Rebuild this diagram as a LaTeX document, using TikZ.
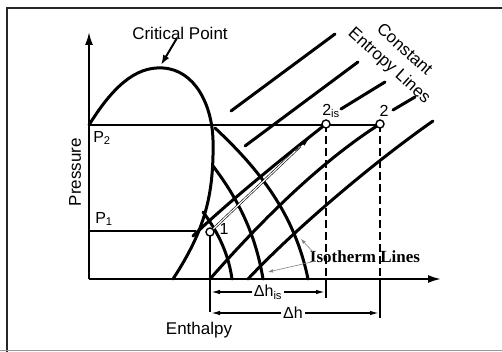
\documentclass[tikz,border=0pt]{standalone}
\usepackage{fontspec}
\setmainfont{Liberation Sans}
\newfontfamily\serifb{Liberation Serif}
\usetikzlibrary{arrows.meta,calc}
\begin{document}
\begin{tikzpicture}[x=1pt,y=-1pt,
  thickcurve/.style={line width=3pt, line cap=round},
  axisline/.style={line width=2pt},
  thinline/.style={line width=1.3pt},
  dashv/.style={line width=2pt, dash pattern=on 8pt off 4pt},
  dimline/.style={line width=1.4pt, {Latex[length=9pt,width=4.5pt]}-{Latex[length=9pt,width=4.5pt]}},
  ptcircle/.style={circle, draw, fill=white, inner sep=0pt, minimum size=8pt, line width=1.4pt},
  lbl/.style={font=\fontsize{17}{19}\selectfont, inner sep=0pt},
  smalllbl/.style={font=\fontsize{16}{18}\selectfont, inner sep=0pt},
  isolbl/.style={font=\serifb\bfseries\fontsize{17}{19}\selectfont, inner sep=0pt},
  grayarrow/.style={line width=0.6pt, gray, -{Latex[length=5pt,width=3.5pt]}}
]
\useasboundingbox (0,0) rectangle (502,352);
% frame
\draw[line width=1.8pt, black!85] (7,352) -- (7,8) -- (502,8);
\draw[line width=1.5pt, black!40] (0,350.5) -- (502,350.5);

% coordinates
\coordinate (O) at (89,279);
\coordinate (ytop) at (89,32);
\coordinate (xend) at (441,279);
\coordinate (P2s) at (89,125);
\coordinate (P1s) at (89,231);
\coordinate (P1e) at (196,231);
\coordinate (top) at (163,68);
\coordinate (domeend) at (173,279);

% P lines
\draw[thinline] (P2s) -- (380,125);
\draw[thinline] (P1s) -- (P1e);

% axes
\draw[axisline, -{Latex[length=13pt,width=8pt]}] (O) -- (ytop);
\draw[axisline, -{Latex[length=13pt,width=8pt]}] (O) -- (xend);

% dome
\draw[thickcurve] (P2s) .. controls (112,88) and (135,66) .. (top)
  .. controls (195,70) and (212,105) .. (213,140)
  .. controls (214,195) and (205,230) .. (domeend);

% isotherms
\draw[thickcurve] (215,128) .. controls (260,170) and (295,215) .. (308,279);
\draw[thickcurve] (213,166) .. controls (235,195) and (255,230) .. (263,279);
\draw[thickcurve] (203,212) .. controls (215,228) and (228,250) .. (232,279);

% points
\coordinate (c1) at (210,232);
\coordinate (c2is) at (326,124);
\coordinate (c2) at (380,124);

% constant entropy lines
\draw[thickcurve] (231,111) -- (335,34);
\draw[thickcurve] (245,146) -- (358,62);
\draw[thickcurve] (193,236) .. controls (225,205) and (280,160) .. (c2is);
\draw[thickcurve] (341,109) -- (385,82);
\draw[thickcurve] (210,279) .. controls (260,222) and (320,162) .. (c2);
\draw[thickcurve] (393,110) -- (415,97);
\draw[thickcurve] (248,279) .. controls (292,232) and (370,165) .. (433,121);

% compression path 1 -> 2is
\coordinate (arrtip) at (310,137);
\coordinate (arrmid) at ($(c1)!0.85!(arrtip)$);
\coordinate (arrdbl) at ($(c1)!0.9!(arrtip)$);
\draw[line width=0.6pt, double, double distance=1.2pt] (c1) -- (arrdbl);
\draw[line width=0.6pt, -{Latex[length=10pt,width=5pt]}] (arrmid) -- (arrtip);

% verticals
\draw[axisline] (c1) -- (210,312);
\draw[dashv] (c2is) -- (326,279);
\draw[axisline] (326,279) -- (326,298);
\draw[dashv] (c2) -- (380,279);
\draw[axisline] (380,279) -- (380,318);

% circles
\node[ptcircle] (n1) at (c1) {};
\node[ptcircle] (n2is) at (c2is) {};
\node[ptcircle] (n2) at (c2) {};

% dimension lines
\coordinate (dA) at (211,292);
\coordinate (dB) at (325,292);
\coordinate (eA) at (211,313);
\coordinate (eB) at (379,313);
\draw[dimline] (dA) -- node[smalllbl, fill=white, inner sep=2pt] (dhis) {Δh\textsubscript{is}} (dB);
\draw[dimline] (eA) -- node[smalllbl, fill=white, inner sep=2pt, xshift=-2pt] (dh) {Δh} (eB);

% labels
\node[lbl] (crit) at (180,33) {Critical Point};
\draw[line width=2pt, -{Latex[length=10pt,width=7pt]}] (177,38) -- (161,65);
\node[lbl, rotate=90] (press) at (75,172) {Pressure};
\node[lbl] (enth) at (199,330) {Enthalpy};
\node[smalllbl] (lp2) at (102,138) {P\textsubscript{2}};
\node[smalllbl] (lp1) at (104,219) {P\textsubscript{1}};
\node[smalllbl] (l1) at (224,229) {1};
\node[smalllbl] (l2is) at (331,111) {2\textsubscript{is}};
\node[smalllbl] (l2) at (384,111) {2};
\node[lbl, rotate=-42] (celab1) at (405,49) {Constant};
\node[lbl, rotate=-42] (celab2) at (389,66) {Entropy Lines};
\node[isolbl] (iso) at (365,257) {Isotherm Lines};
\draw[grayarrow] (313,252) -- (301,239);
\draw[grayarrow] (316,261) -- (268,272);
\end{tikzpicture}
\end{document}
